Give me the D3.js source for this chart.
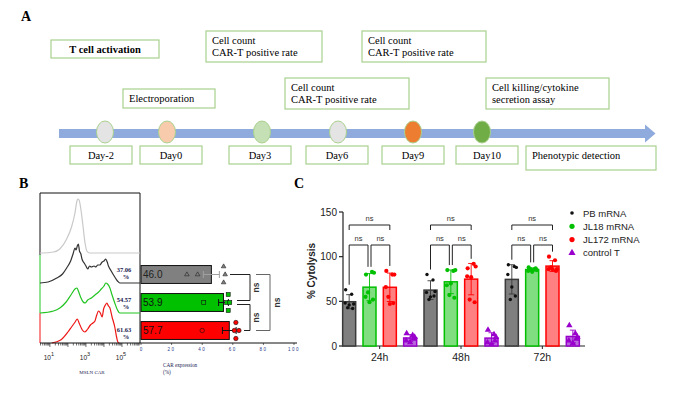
<!DOCTYPE html>
<html>
<head>
<meta charset="utf-8">
<script src="https://cdn.jsdelivr.net/npm/d3@7"></script>
<style>
  body { margin: 0; background: #fff; }
  svg { display: block; }
</style>
</head>
<body>
<div id="root"></div>
<script>
// ---------- Panel A: workflow timeline ----------
const days = ['Day-2', 'Day0', 'Day3', 'Day6', 'Day9', 'Day10'];
const dayFill = ['#e4e4e4', '#f8cbad', '#c5e0b4', '#e4e4e4', '#ed7d31', '#70ad47'];
const calloutText = [
  ['T cell activation'],
  ['Cell count', 'CAR-T positive rate'],
  ['Electroporation'],
  ['Cell count', 'CAR-T positive rate'],
  ['Cell count', 'CAR-T positive rate'],
  ['Cell killing/cytokine', 'secretion assay']
];
const finalStep = 'Phenotypic detection';

// ---------- Panel B: flow histograms + CAR expression ----------
const histSamples = ['Unstained', 'PB mRNA', 'JL18 mRNA', 'JL172 mRNA'];
// [log10 fluorescence, events]
const histUnstained = [[0.45,0],[0.56,0],[1.2,1],[1.55,4],[1.93,14],[2.2,26],[2.39,40],[2.5,52],[2.55,54],[2.62,53],[2.7,46],[2.83,28],[2.95,10],[3.05,2],[3.2,0],[6,0]];
const histPB = [[0.45,0],[0.9,1],[1.38,5],[1.7,9],[1.93,15],[2.15,22],[2.3,30],[2.39,35],[2.45,33],[2.52,37],[2.58,39],[2.64,32],[2.72,29],[2.78,24],[2.9,20],[3.0,17],[3.1,14],[3.2,17],[3.3,16],[3.45,17],[3.55,16],[3.65,18],[3.77,18],[3.9,21],[4.0,22],[4.1,24],[4.18,21],[4.25,17],[4.4,12],[4.6,6],[4.75,2],[4.88,0],[6,0]];
const histJL18 = [[0.45,0],[1.2,2],[1.55,5],[1.9,11],[2.2,19],[2.39,24],[2.5,25],[2.58,22],[2.7,16],[2.85,11],[2.95,10],[3.1,13],[3.3,15],[3.5,18],[3.7,21],[3.85,24],[4.0,27],[4.1,30],[4.2,29],[4.33,25],[4.45,18],[4.6,10],[4.75,3],[4.88,0],[6,0]];
const histJL172 = [[1.1,0],[1.6,3],[2.0,11],[2.2,16],[2.4,21],[2.52,24],[2.62,20],[2.8,13],[2.94,11],[3.1,14],[3.25,18],[3.39,20],[3.5,22],[3.6,28],[3.7,32],[3.8,30],[3.9,26],[3.98,34],[4.08,38],[4.16,40],[4.25,37],[4.33,35],[4.45,26],[4.6,16],[4.7,6],[4.77,1],[4.85,0]];
const histPct = ['', '37.06', '54.57', '61.63'];
const histTicks = [1, 3, 5];

const carGroups = ['PB mRNA', 'JL18 mRNA', 'JL172 mRNA'];
const carMean = [46.0, 53.9, 57.7];
const carPoints = [[30, 37, 54, 55, 54], [41, 56, 57, 58, 57], [40, 61, 62, 64, 62]];
const carTicks = [0, 20, 40, 60, 80, 100];

// ---------- Panel C: cytolysis ----------
const timepoints = ['24h', '48h', '72h'];
const series = ['PB mRNA', 'JL18 mRNA', 'JL172 mRNA', 'control T'];
const pbPoints = [[63, 58, 47, 48, 46, 42, 43], [80, 74, 61, 60, 55, 56, 52], [91, 89, 88, 80, 66, 56, 52]];
const jl18Points = [[80, 83, 82, 55, 49, 52, 60], [85, 84, 85, 68, 70, 54, 57], [88, 86, 85, 84, 83, 87, 86]];
const jl172Points = [[84, 80, 80, 66, 47, 48, 55], [87, 92, 89, 78, 77, 49, 52], [100, 96, 86, 86, 86, 84, 88]];
const ctrlPoints = [[14, 12, 10, 6, 4, 8], [18, 13, 10, 4, 2, 6], [23, 14, 10, 6, 3, 8]];
const cytoTicks = [0, 50, 100, 150];

// ---------- drawing ----------
const serif = '"Liberation Serif","Times New Roman",serif';
const sans = '"Liberation Sans",Arial,sans-serif';
const boxGreen = '#a9d18e';

const svg = d3.select('#root').append('svg')
  .attr('width', 680).attr('height', 400)
  .style('background', '#fff');

function panelLabel(x, y, t) {
  svg.append('text').attr('x', x).attr('y', y).text(t)
    .attr('font-family', serif).attr('font-weight', 'bold').attr('font-size', 14);
}

// ===== A =====
panelLabel(21, 21, 'A');
const gA = svg.append('g');
const dayX = d3.scaleOrdinal().domain(days).range([105, 167, 262, 338, 413, 482]);
const labelShift = [-4, 4, -2, -1, 0, 5];

// callout box layout: left, top, width, height
const calloutBox = [
  [51, 40, 108, 18], [206, 31, 116, 31], [123, 89, 92, 19],
  [285, 78, 124, 31], [362, 31, 124, 31], [486, 78, 123, 31]
];
calloutText.forEach((lines, i) => {
  const [x, y, w, h] = calloutBox[i];
  gA.append('rect').attr('x', x).attr('y', y).attr('width', w).attr('height', h)
    .attr('fill', '#fff').attr('stroke', boxGreen).attr('stroke-width', 1.2);
  const bold = i === 0;
  lines.forEach((ln, j) => {
    gA.append('text')
      .attr('x', bold ? x + w / 2 : x + 6)
      .attr('y', y + 13 + j * 12)
      .attr('text-anchor', bold ? 'middle' : 'start')
      .attr('font-family', serif).attr('font-size', 10.5)
      .attr('font-weight', bold ? 'bold' : 'normal')
      .text(ln);
  });
});

// arrow
gA.append('rect').attr('x', 59).attr('y', 129).attr('width', 587).attr('height', 9)
  .attr('fill', '#8faadc');
gA.append('path').attr('d', 'M645,124.5 L655.5,133.5 L645,142.5 Z').attr('fill', '#8faadc');

days.forEach((d, i) => {
  const cx = dayX(d);
  const lx = cx + labelShift[i];
  gA.append('ellipse').attr('cx', cx).attr('cy', 132).attr('rx', 8.5).attr('ry', 11)
    .attr('fill', dayFill[i]).attr('stroke', boxGreen).attr('stroke-width', 1);
  gA.append('rect').attr('x', lx - 31).attr('y', 146).attr('width', 62).attr('height', 18)
    .attr('fill', '#fff').attr('stroke', boxGreen).attr('stroke-width', 1.2);
  gA.append('text').attr('x', lx).attr('y', 159).attr('text-anchor', 'middle')
    .attr('font-family', serif).attr('font-size', 10.5).text(d);
});
gA.append('rect').attr('x', 526).attr('y', 146).attr('width', 130).attr('height', 24)
  .attr('fill', '#fff').attr('stroke', boxGreen).attr('stroke-width', 1.2);
gA.append('text').attr('x', 532).attr('y', 159).attr('font-family', serif)
  .attr('font-size', 10.5).text(finalStep);

// ===== B =====
panelLabel(19, 188, 'B');
const gB = svg.append('g');
const hx = d3.scaleLog().domain([Math.pow(10, 0.45), 1e6]).range([40, 140]);
const laneBase = d3.scalePoint().domain(histSamples).range([253, 343]);
const hy = d3.scaleLinear().domain([0, 60]).range([0, 60]);
const histData = [histUnstained, histPB, histJL18, histJL172];
const histColor = ['#c9c9c9', '#333333', '#22c422', '#ee1515'];

// left frame segments coloured per lane
gB.append('line').attr('x1', 40).attr('x2', 40).attr('y1', 193).attr('y2', 255).attr('stroke', '#111');
gB.append('line').attr('x1', 40).attr('x2', 40).attr('y1', 255).attr('y2', 313).attr('stroke', '#22c422');
gB.append('line').attr('x1', 40).attr('x2', 40).attr('y1', 313).attr('y2', 343).attr('stroke', '#ee1515');
gB.append('line').attr('x1', 40).attr('x2', 140).attr('y1', 193).attr('y2', 193).attr('stroke', '#111');
gB.append('line').attr('x1', 140).attr('x2', 140).attr('y1', 193).attr('y2', 343).attr('stroke', '#111');

histSamples.forEach((s, i) => {
  const base = laneBase(s);
  const line = d3.line()
    .x(d => hx(Math.pow(10, d[0])))
    .y(d => base - hy(d[1]))
    .curve(d3.curveMonotoneX);
  gB.append('path').attr('d', line(histData[i])).attr('fill', 'none')
    .attr('stroke', histColor[i]).attr('stroke-width', 1.2);
  if (histPct[i]) {
    gB.append('text').attr('x', 124).attr('y', base - 11).attr('text-anchor', 'middle')
      .attr('font-family', serif).attr('font-weight', 'bold').attr('font-size', 6.5)
      .attr('fill', '#1a2050').text(histPct[i]);
    gB.append('text').attr('x', 126).attr('y', base - 4).attr('text-anchor', 'middle')
      .attr('font-family', serif).attr('font-weight', 'bold').attr('font-size', 6.5)
      .attr('fill', '#1a2050').text('%');
  }
});

// log axis
gB.append('line').attr('x1', 40).attr('x2', 140).attr('y1', 343).attr('y2', 343).attr('stroke', '#111');
const minor = [];
for (let e = 0; e < 6; e++) for (let m = 1; m < 10; m++) {
  const v = m * Math.pow(10, e);
  if (v >= hx.domain()[0] && v <= 1e6) minor.push(v);
}
gB.selectAll('.mt').data(minor).join('line')
  .attr('x1', d => hx(d)).attr('x2', d => hx(d))
  .attr('y1', 343).attr('y2', d => (Math.log10(d) % 1 === 0 ? 347 : 345.5))
  .attr('stroke', '#111').attr('stroke-width', 0.6);
histTicks.forEach(e => {
  const t = gB.append('text').attr('x', hx(Math.pow(10, e)) - 1).attr('y', 360)
    .attr('text-anchor', 'middle').attr('font-family', sans).attr('font-size', 6.5).attr('fill', '#222');
  t.append('tspan').text('10');
  t.append('tspan').attr('dy', -4).attr('font-size', 5.5).text(e);
});
gB.append('text').attr('x', 92).attr('y', 374).attr('text-anchor', 'middle')
  .attr('font-family', serif).attr('font-size', 5).attr('fill', '#1a2050').text('MSLN CAR');

// CAR expression bars
const bx = d3.scaleLinear().domain([0, 100]).range([141, 294]);
const by = d3.scaleBand().domain(carGroups).range([260.5, 344.5]).paddingInner(0.36).paddingOuter(0.18);
const carFill = ['#808080', '#00c000', '#ff0000'];
const carLabel = ['#222', '#111', '#111'];
const jitter = [0, 0, -8, 0, 8];

gB.append('line').attr('x1', 140).attr('x2', 297).attr('y1', 343).attr('y2', 343).attr('stroke', '#111');
carTicks.forEach(t => {
  gB.append('line').attr('x1', bx(t)).attr('x2', bx(t)).attr('y1', 343).attr('y2', 345).attr('stroke', '#111').attr('stroke-width', 0.6);
  gB.append('text').attr('x', bx(t)).attr('y', 350.5).attr('text-anchor', 'middle')
    .attr('font-family', sans).attr('font-size', 4.5).attr('letter-spacing', t ? 1.5 : 0)
    .attr('fill', '#2a3a8a').text(t);
});
gB.append('text').attr('x', 163).attr('y', 367).attr('font-family', serif).attr('font-size', 5.2)
  .attr('fill', '#1a2050').text('CAR expression');
gB.append('text').attr('x', 163).attr('y', 374).attr('font-family', serif).attr('font-size', 5.2)
  .attr('fill', '#1a2050').text('(%)');

carGroups.forEach((g, i) => {
  const y0 = by(g), bh = by.bandwidth(), cy = y0 + bh / 2;
  gB.append('rect').attr('x', bx(0)).attr('y', y0).attr('width', bx(carMean[i]) - bx(0)).attr('height', bh)
    .attr('fill', carFill[i]).attr('stroke', '#111').attr('stroke-width', 1);
  gB.append('text').attr('x', bx(0) + 2).attr('y', cy + 3.5).attr('font-family', sans)
    .attr('font-size', 10).attr('fill', carLabel[i]).text(carMean[i].toFixed(1));
  const pts = carPoints[i];
  const sem = d3.deviation(pts) / Math.sqrt(pts.length);
  const ec = i === 0 ? '#a0a0a0' : '#111';
  gB.append('line').attr('x1', bx(carMean[i] - sem)).attr('x2', bx(carMean[i] + sem)).attr('y1', cy).attr('y2', cy).attr('stroke', ec);
  [carMean[i] - sem, carMean[i] + sem].forEach(v => {
    gB.append('line').attr('x1', bx(v)).attr('x2', bx(v)).attr('y1', cy - 3.5).attr('y2', cy + 3.5).attr('stroke', ec);
  });
  pts.forEach((v, k) => {
    const px = bx(v), py = cy + jitter[k];
    if (i === 0) {
      gB.append('path').attr('d', d3.symbol(d3.symbolTriangle, 9)()).attr('transform', `translate(${px},${py})`)
        .attr('fill', '#808080').attr('stroke', '#222').attr('stroke-width', 0.6);
    } else if (i === 1) {
      gB.append('rect').attr('x', px - 2).attr('y', py - 2).attr('width', 4).attr('height', 4)
        .attr('fill', '#00c000').attr('stroke', '#111').attr('stroke-width', 0.6);
    } else {
      gB.append('circle').attr('cx', px).attr('cy', py).attr('r', 2.2)
        .attr('fill', '#ff0000').attr('stroke', '#111').attr('stroke-width', 0.6);
    }
  });
});

// significance brackets (horizontal)
function vBracket(x, ya, yb, xa, xb, color, tx) {
  gB.append('path').attr('d', `M${xa},${ya} H${x} V${yb} H${xb}`).attr('fill', 'none')
    .attr('stroke', color).attr('stroke-width', 1);
  gB.append('text').attr('transform', `translate(${tx},${(ya + yb) / 2}) rotate(-90)`)
    .attr('text-anchor', 'middle').attr('dy', '0.35em')
    .attr('font-family', sans).attr('font-weight', 'bold').attr('font-size', 8.5).attr('fill', '#333').text('ns');
}
const cyOf = g => by(g) + by.bandwidth() / 2;
vBracket(250, cyOf(carGroups[0]), cyOf(carGroups[1]) - 2, 230, 237, '#222', 256);
vBracket(250, cyOf(carGroups[1]) + 2, cyOf(carGroups[2]), 237, 244, '#222', 256);
vBracket(270, cyOf(carGroups[0]), cyOf(carGroups[2]), 256, 256, '#666', 277);

// ===== C =====
panelLabel(294, 188, 'C');
const gC = svg.append('g');
const x0 = d3.scaleBand().domain(timepoints).range([339, 583]);
const x1 = d3.scaleBand().domain(series).range([0, x0.bandwidth()]).paddingInner(0.36).paddingOuter(0.18);
const yC = d3.scaleLinear().domain([0, 150]).range([346, 212]);
const allPts = [pbPoints, jl18Points, jl172Points, ctrlPoints];
const sFill = ['#7f7f7f', '#80dd80', '#ff8080', '#b868dc'];
const sStroke = ['#3a3a3a', '#00c000', '#ff0000', '#9900cc'];
const sDot = ['#111', '#00c000', '#ff0000', '#9900cc'];
const jx = [-3.5, 2.5, 4.5, -4, 0, 3.5, -1.5];

// axes
gC.append('line').attr('x1', 343).attr('x2', 343).attr('y1', yC(150)).attr('y2', yC(0)).attr('stroke', '#222').attr('stroke-width', 1.2);
gC.append('line').attr('x1', 343).attr('x2', 585).attr('y1', yC(0)).attr('y2', yC(0)).attr('stroke', '#222').attr('stroke-width', 1.2);
cytoTicks.forEach(t => {
  gC.append('line').attr('x1', 339).attr('x2', 343).attr('y1', yC(t)).attr('y2', yC(t)).attr('stroke', '#222').attr('stroke-width', 1.2);
  gC.append('text').attr('x', 337).attr('y', yC(t) + 3.5).attr('text-anchor', 'end')
    .attr('font-family', sans).attr('font-size', 10).attr('fill', '#222').text(t);
});
gC.append('text').attr('transform', `translate(315,${(yC(0) + yC(150)) / 2 - 8}) rotate(-90)`)
  .attr('text-anchor', 'middle').attr('font-family', sans).attr('font-weight', 'bold')
  .attr('font-size', 10).attr('fill', '#222').text('% Cytolysis');

timepoints.forEach((tp, ti) => {
  const gx = x0(tp) + x0.bandwidth() / 2;
  gC.append('line').attr('x1', gx).attr('x2', gx).attr('y1', yC(0)).attr('y2', yC(0) + 3).attr('stroke', '#222');
  gC.append('text').attr('x', gx).attr('y', 361).attr('text-anchor', 'middle')
    .attr('font-family', sans).attr('font-size', 10.5).attr('fill', '#222').text(tp);

  series.forEach((s, si) => {
    const pts = allPts[si][ti];
    const m = d3.mean(pts), sd = d3.deviation(pts);
    const bxl = x0(tp) + x1(s), bw = x1.bandwidth(), cx = bxl + bw / 2;
    gC.append('rect').attr('x', bxl).attr('y', yC(m)).attr('width', bw).attr('height', yC(0) - yC(m))
      .attr('fill', sFill[si]).attr('stroke', sStroke[si]).attr('stroke-width', 1.5);
    gC.append('line').attr('x1', cx).attr('x2', cx).attr('y1', yC(m - sd)).attr('y2', yC(m + sd))
      .attr('stroke', sStroke[si]).attr('stroke-width', 0.9);
    [m - sd, m + sd].forEach(v => {
      gC.append('line').attr('x1', cx - 3).attr('x2', cx + 3).attr('y1', yC(v)).attr('y2', yC(v))
        .attr('stroke', sStroke[si]).attr('stroke-width', 0.9);
    });
    pts.forEach((v, k) => {
      const px = cx + jx[k % jx.length], py = yC(v);
      if (si === 3) {
        gC.append('path').attr('d', d3.symbol(d3.symbolTriangle, 18)()).attr('transform', `translate(${px},${py})`)
          .attr('fill', sDot[si]);
      } else {
        gC.append('circle').attr('cx', px).attr('cy', py).attr('r', si === 0 ? 1.7 : 2.1).attr('fill', sDot[si]);
      }
    });
  });

  // brackets
  const cxOf = s => x0(tp) + x1(s) + x1.bandwidth() / 2;
  const topY = s => yC(d3.max(allPts[series.indexOf(s)][ti])) - 5;
  function bracket(a, b, y, ya, yb, dxa, dxb) {
    const xa = cxOf(a) + dxa, xb = cxOf(b) + dxb;
    gC.append('path').attr('d', `M${xa},${ya} V${y} H${xb} V${yb}`).attr('fill', 'none')
      .attr('stroke', '#222').attr('stroke-width', 1);
    gC.append('text').attr('x', (xa + xb) / 2).attr('y', y - 4).attr('text-anchor', 'middle')
      .attr('font-family', sans).attr('font-size', 7.5).attr('fill', '#333').text('ns');
  }
  bracket(series[0], series[2], 225, 230, 230, 0, 0);
  bracket(series[0], series[1], 245, topY(series[0]), topY(series[1]), 0, -1.5);
  bracket(series[1], series[2], 245, topY(series[1]), topY(series[2]), 1.5, 0);
});

// legend
series.forEach((s, si) => {
  const ly = 213 + si * 13.3;
  if (si === 3) {
    gC.append('path').attr('d', d3.symbol(d3.symbolTriangle, 22)()).attr('transform', `translate(572,${ly})`).attr('fill', sDot[si]);
  } else {
    gC.append('circle').attr('cx', 572).attr('cy', ly).attr('r', si === 0 ? 1.8 : 2.6).attr('fill', sDot[si]);
  }
  gC.append('text').attr('x', 583).attr('y', ly + 3.5).attr('font-family', sans)
    .attr('font-size', 9.5).attr('fill', '#222').text(s);
});
</script>
</body>
</html>
